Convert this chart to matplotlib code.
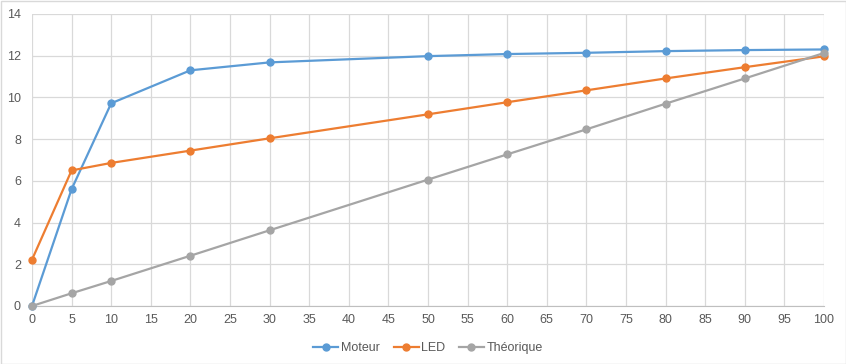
import matplotlib
matplotlib.use("Agg")
import matplotlib.pyplot as plt
from matplotlib.patches import Rectangle

x = [0, 5, 10, 20, 30, 50, 60, 70, 80, 90, 100]
moteur = [0, 5.6, 9.72, 11.3, 11.68, 11.98, 12.08, 12.14, 12.22, 12.27, 12.3]
led = [2.22, 6.5, 6.86, 7.45, 8.04, 9.19, 9.77, 10.34, 10.91, 11.45, 11.97]
theorique = [0, 0.61, 1.2, 2.41, 3.63, 6.06, 7.27, 8.47, 9.7, 10.91, 12.13]

series = [("Moteur", moteur, "#5B9BD5"), ("LED", led, "#ED7D31"), ("Théorique", theorique, "#A5A5A5")]

plt.rcParams['font.family'] = ['Liberation Sans', 'DejaVu Sans']

fig = plt.figure(figsize=(8.46, 3.64), dpi=100)
ax = fig.add_axes([32/846, 58/364, (824-32)/846, (306-14)/364])

for name, vals, col in series:
    ax.plot(x, vals, color=col, lw=1.6, marker='o', ms=5, label=name, zorder=3, clip_on=False)

ax.set_xlim(0, 100)
ax.set_ylim(0, 14)
ax.set_xticks(range(0, 101, 5))
ax.set_yticks(range(0, 15, 2))
ax.grid(True, color='#D9D9D9', lw=0.9)
ax.set_axisbelow(True)
for s in ['left', 'right', 'top']:
    ax.spines[s].set_visible(False)
ax.spines['bottom'].set_color('#BFBFBF')
ax.tick_params(length=0, colors='#595959', labelsize=9, pad=6)
ax.tick_params(axis='y', pad=8)

ax.legend(loc='center', bbox_to_anchor=(0.5, -0.145), ncol=3, frameon=False,
          fontsize=9, labelcolor='#595959', handlelength=2.0, columnspacing=1.1,
          handletextpad=0.2)

fig.patches.append(Rectangle((0.5/846, 0.5/364), 845/846, 363/364, transform=fig.transFigure,
                             fill=False, edgecolor='#D9D9D9', lw=1))

fig.savefig("out.png", dpi=100)
